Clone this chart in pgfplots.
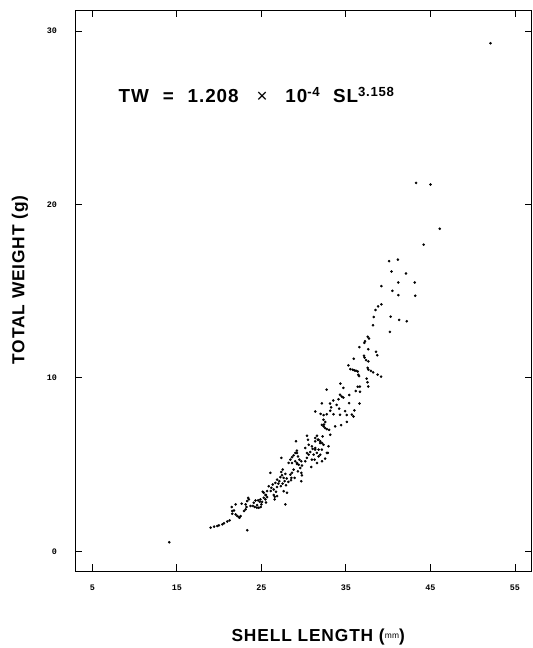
\documentclass[border=0pt]{standalone}
\usepackage{fontspec}
\setmainfont{Liberation Sans}
\newfontfamily\tickfont{Liberation Mono}
\newfontfamily\labfont[LetterSpace=5]{Liberation Sans}
\usepackage{pgfplots}
\pgfplotsset{compat=1.18}
\pgfplotstableread{
x y
14.1 0.52
52.1 29.3
43.3 21.24
45.0 21.15
46.1 18.6
44.2 17.68
40.1 16.73
41.15 16.82
40.4 16.13
42.1 16.02
39.2 15.29
41.2 15.5
43.15 15.5
40.5 15.02
41.2 14.77
43.2 14.74
39.2 14.24
38.8 14.12
38.5 13.91
38.3 13.51
38.2 13.03
40.3 13.53
41.3 13.34
42.2 13.26
40.2 12.65
37.57 12.37
37.73 12.27
37.26 12.11
37.18 12.02
36.59 11.77
37.65 11.65
35.92 11.1
37.14 11.27
37.21 11.16
37.38 11.02
37.65 10.95
38.56 11.5
38.7 11.3
35.29 10.72
35.53 10.5
35.8 10.47
36.0 10.43
36.2 10.41
36.4 10.37
36.45 10.18
36.55 10.1
37.57 10.58
37.65 10.47
37.95 10.4
38.22 10.32
38.75 10.18
39.15 10.07
37.45 9.95
37.55 9.75
37.65 9.5
36.4 9.49
36.65 9.5
36.15 9.24
36.67 9.2
34.35 9.67
34.7 9.42
32.72 9.32
34.3 9.03
34.5 8.92
34.7 8.86
35.4 9.01
33.5 8.69
32.15 8.53
33.13 8.52
33.25 8.3
33.15 8.1
33.9 8.44
34.2 8.22
35.37 8.54
36.6 8.52
36.0 8.12
34.9 8.08
34.31 7.87
35.1 7.86
35.7 7.88
33.53 7.9
32.74 7.9
32.35 7.85
32.0 7.92
35.9 7.77
35.1 7.46
34.43 7.27
32.55 7.45
32.4 7.31
34.12 8.77
31.37 8.06
32.35 7.58
32.16 7.29
32.35 7.2
32.55 7.1
32.75 7.04
33.02 7.0
33.73 7.2
33.14 6.72
32.24 6.62
31.57 6.66
31.37 6.53
31.76 6.43
31.96 6.34
32.16 6.24
30.39 6.66
29.09 6.34
30.59 6.14
30.98 6.05
31.06 5.9
31.37 5.95
31.76 5.86
31.96 5.57
30.19 5.95
30.39 5.67
32.94 6.05
32.86 5.67
29.21 5.67
29.33 5.47
29.49 5.28
29.21 5.09
29.41 4.99
29.8 4.94
29.72 5.19
28.62 5.09
28.43 5.28
31.17 5.57
31.29 5.28
31.57 5.09
32.16 5.19
30.9 4.86
30.5 6.43
24.89 2.99
25.08 2.85
25.28 3.08
25.0 2.7
25.48 3.24
25.67 3.12
25.16 3.43
25.87 3.75
26.18 3.66
26.34 3.85
26.46 3.56
26.57 2.99
26.46 3.24
26.73 3.43
26.85 3.7
26.65 3.94
26.85 4.13
27.12 4.04
27.24 4.27
27.44 4.38
27.36 4.57
27.52 4.71
27.63 4.23
27.83 4.46
27.75 4.04
27.91 3.81
27.63 3.46
28.03 3.37
27.83 2.7
26.06 4.52
27.36 5.38
28.22 5.09
28.62 5.42
28.81 5.53
29.01 5.67
29.2 5.8
29.01 5.19
29.2 5.03
29.6 4.8
28.81 4.71
28.62 4.52
28.42 4.42
28.93 4.23
29.32 4.61
29.72 4.52
29.79 4.38
29.72 4.04
30.19 5.19
30.38 5.38
30.58 5.57
30.78 5.72
31.36 5.86
31.56 5.67
31.76 5.47
30.97 5.28
31.36 6.34
31.68 6.43
31.95 6.24
32.35 6.14
32.15 5.86
32.54 5.34
32.74 5.67
19.0 1.36
19.4 1.42
19.78 1.46
19.98 1.49
20.37 1.55
20.57 1.61
20.96 1.71
21.24 1.78
21.55 2.32
21.75 2.35
21.55 2.16
21.95 2.12
22.14 2.03
22.34 1.97
22.54 2.03
22.42 1.93
21.48 2.55
21.95 2.7
22.66 2.74
22.93 2.32
23.13 2.41
23.24 2.55
23.13 2.7
23.32 2.89
23.52 2.99
23.43 3.08
23.32 1.21
23.72 2.61
23.99 2.61
24.22 2.55
24.46 2.51
24.69 2.51
24.93 2.55
24.1 2.8
24.49 2.66
24.3 2.93
24.61 2.93
24.81 2.85
25.48 2.99
25.55 2.81
25.67 3.47
25.28 3.37
25.55 3.24
26.1 3.47
26.58 3.14
26.85 3.18
27.0 3.9
27.3 3.75
27.5 3.9
28.2 4.0
28.0 4.2
28.5 4.1
28.55 4.23
}\datatable
\begin{document}
\begin{tikzpicture}
\begin{axis}[
  at={(0,0)}, anchor=south west,
  width=458.5bp, height=563.3bp, scale only axis,
  xmin=3.0, xmax=57.0, ymin=-1.14, ymax=31.2,
  xtick={5,15,25,35,45,55}, ytick={0,10,20,30},
  minor tick num=0,
  tick align=inside,
  major tick length=7bp,
  axis line style={line width=0.9bp},
  every tick/.style={line width=0.9bp, black},
  tick label style={font=\tickfont\bfseries\fontsize{8.5}{8.5}\selectfont},
  /pgf/number format/assume math mode=true,
  xticklabel style={yshift=-10bp},
  yticklabel style={xshift=-15bp},
  xlabel={SHELL LENGTH (\raisebox{3bp}{\mdseries\fontsize{8.5}{8.5}\selectfont mm})},
  ylabel={TOTAL WEIGHT (g)},
  every axis x label/.style={at={(axis description cs:0.532,-0.125)},anchor=base},
  every axis y label/.style={at={(axis description cs:-0.1216,0.519)},rotate=90,anchor=center},
  label style={font=\labfont\bfseries\fontsize{17.5}{17.5}\selectfont},
  clip=false,
]
\addplot[only marks, mark=*, mark size=1.1bp, black, draw=none, fill=black] table {\datatable};
\node[anchor=base west, inner sep=0pt, font=\labfont\bfseries\fontsize{19}{19}\selectfont] at (axis description cs:0.0941,0.8354) {TW\hspace{14bp}=\hspace{14bp}1.208\hspace{18bp}{\mdseries ×}\hspace{18bp}10\textsuperscript{-4}\hspace{13bp}SL\textsuperscript{3.158}};
\end{axis}
\path[use as bounding box] (-75.8bp,-74.4bp) rectangle (458.5bp,573.6bp);
\end{tikzpicture}
\end{document}
